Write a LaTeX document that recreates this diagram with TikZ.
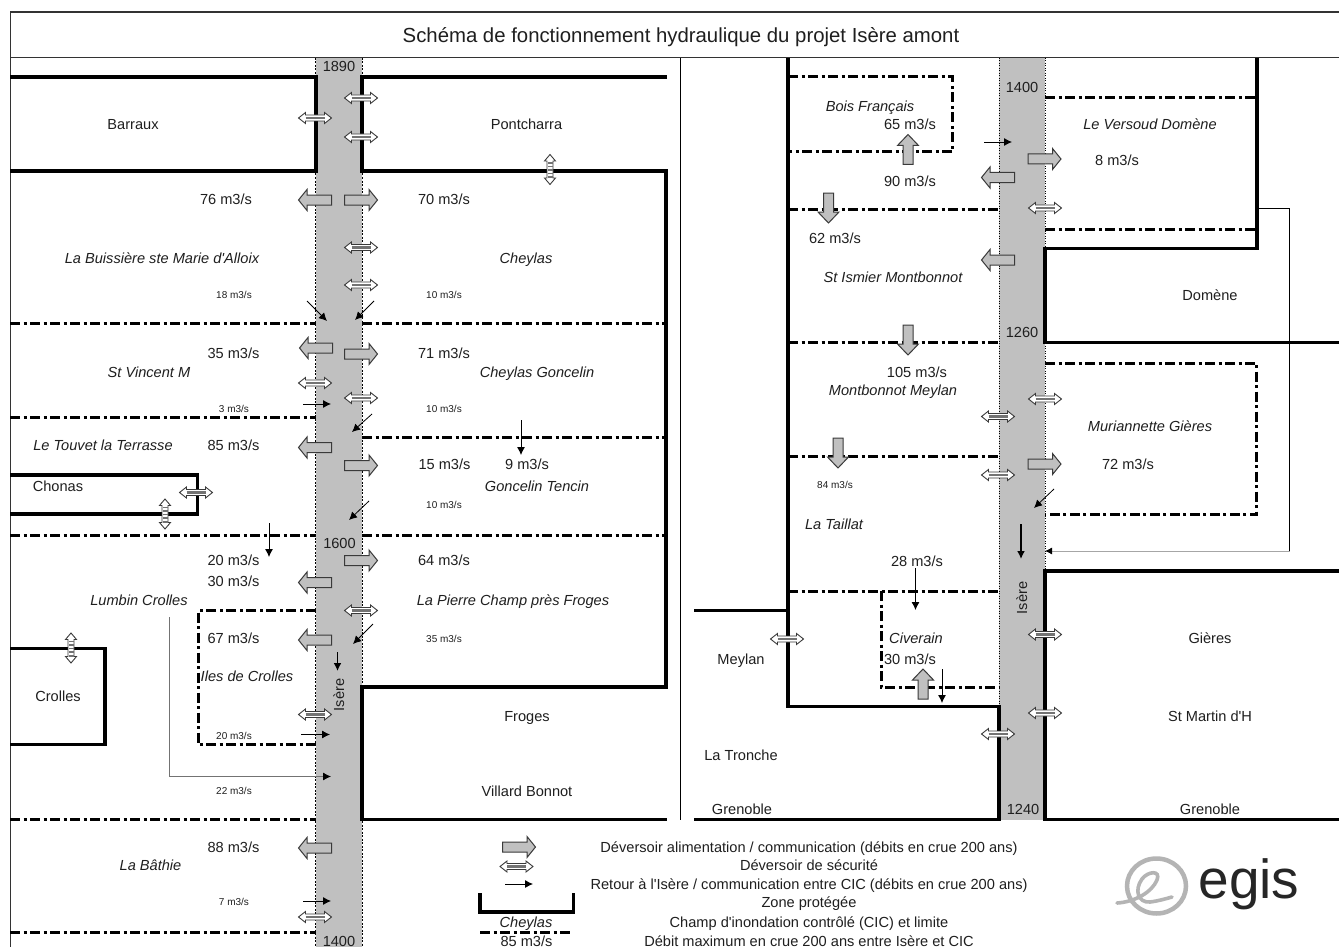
\documentclass[tikz,border=0pt]{standalone}
\usepackage{fontspec}
\setmainfont{Liberation Sans}
\usetikzlibrary{arrows.meta}
\definecolor{river}{HTML}{C0C0C0}
\definecolor{edge}{HTML}{3A3A3A}
\definecolor{logog}{HTML}{B4B4B4}
\newcounter{tn}
\tikzset{
  lab/.style={inner sep=0pt,text height=10.4pt,text depth=0pt,font=\fontsize{14.6}{15}\selectfont,text=black!88},
  ital/.style={lab,font=\fontsize{14.6}{15}\selectfont\itshape},
  tiny/.style={lab,text height=7.2pt,font=\fontsize{10}{11}\selectfont},
  wall/.style={line width=3.8pt,line join=miter,line cap=butt},
  cic/.style={line width=3pt,dash pattern=on 10pt off 3.5pt on 3pt off 3.5pt},
  frameline/.style={line width=1.2pt,draw=black!80},
  retour/.style={line width=0.8pt,-{Latex[length=8pt,width=8pt]}},
  riveredgea/.style={line width=1pt,dash pattern=on 2pt off 1.5pt},
  riveredgeb/.style={line width=0.9pt,dash pattern=on 1pt off 1.5pt},
  blockfill/.style={fill=river,draw=edge,line width=1pt},
  dblout/.style={fill=white,draw=edge,line width=0.9pt},
}
\newcommand{\TT}[4][lab]{\stepcounter{tn}\node[#1] (t\arabic{tn}) at (#2,#3) {#4};}
\newcommand{\BA}[3]{\begin{scope}[shift={(#1,#2)},rotate=#3]
  \draw[blockfill] (-16.5,-5) -- (8,-5) -- (8,-10.5) -- (16.5,0) -- (8,10.5) -- (8,5) -- (-16.5,5) -- cycle;
\end{scope}}
\newcommand{\BV}[3]{\begin{scope}[shift={(#1,#2)},rotate=#3]
  \draw[blockfill] (-15,-5) -- (4,-5) -- (4,-10.5) -- (15,0) -- (4,10.5) -- (4,5) -- (-15,5) -- cycle;
\end{scope}}
\newcommand{\DA}[3]{\begin{scope}[shift={(#1,#2)},rotate=#3]
  \draw[dblout] (-16.5,0) -- (-9.5,-5.5) -- (-9.5,-3) -- (9.5,-3) -- (9.5,-5.5) -- (16.5,0) -- (9.5,5.5) -- (9.5,3) -- (-9.5,3) -- (-9.5,5.5) -- cycle;
  \draw[river!60!black,line width=2.2pt] (-9.5,0) -- (9.5,0);
\end{scope}}
\newcommand{\DV}[2]{\begin{scope}[shift={(#1,#2)},rotate=90]
  \draw[dblout] (-15,0) -- (-8.5,-5.5) -- (-8.5,-3) -- (8.5,-3) -- (8.5,-5.5) -- (15,0) -- (8.5,5.5) -- (8.5,3) -- (-8.5,3) -- (-8.5,5.5) -- cycle;
  \draw[river!60!black,line width=5pt,dash pattern=on 1.6pt off 2pt] (-8.5,0) -- (8.5,0);
\end{scope}}
\newcommand{\AR}[5][]{\stepcounter{tn}\coordinate (a\arabic{tn}) at (#2,#3);\coordinate (b\arabic{tn}) at (#4,#5);\draw[retour,#1] (a\arabic{tn}) -- (b\arabic{tn});}
\begin{document}
\begin{tikzpicture}[x=1pt,y=-1pt]
\useasboundingbox (0,0) rectangle (1339,947);
\fill[white] (0,0) rectangle (1339,947);
% rivers
\fill[river] (316,58) rectangle (362,947);
\fill[river] (999,58) rectangle (1045,820);
\draw[riveredgea] (315.5,58) -- (315.5,947);
\draw[riveredgea] (362,58) -- (362,947);
\draw[riveredgeb] (999,58) -- (999,820);
\draw[riveredgeb] (1045,58) -- (1045,820);
% frame
\draw[frameline] (10.5,947) -- (10.5,12) -- (1339,12);
\draw[frameline] (10.5,57.5) -- (1339,57.5);
\draw[line width=1pt] (680.5,58) -- (680.5,820);
% controlled fields
\draw[cic] (10,323.5) -- (316,323.5);
\draw[cic] (362,323.5) -- (667,323.5);
\draw[cic] (10,417.5) -- (316,417.5);
\draw[cic] (362,437) -- (667,437);
\draw[cic] (10,535) -- (316,535);
\draw[cic] (362,535) -- (667,535);
\draw[cic] (316,610.5) -- (198,610.5) -- (198,744.5) -- (316,744.5);
\draw[cic] (10,819.5) -- (316,819.5);
\draw[cic] (10,932.5) -- (316,932.5);
\draw[cic] (788,77) -- (952.5,77) -- (952.5,152) -- (788,152);
\draw[cic] (788,209) -- (999,209);
\draw[cic] (788,342.5) -- (999,342.5);
\draw[cic] (788,456) -- (999,456);
\draw[cic] (788,591) -- (999,591);
\draw[cic] (881,591) -- (881,687) -- (999,687);
\draw[cic] (1045,97.5) -- (1257,97.5);
\draw[cic] (1045,229.5) -- (1257,229.5);
\draw[cic] (1045,363) -- (1256.5,363) -- (1256.5,514.5) -- (1045,514.5);
% protected zones
\draw[wall] (10,77) -- (316,77) -- (316,171) -- (10,171);
\draw[wall] (667,77) -- (362,77) -- (362,171) -- (666,171) -- (666,687) -- (362,687) -- (362,819.5) -- (667,819.5);
\draw[wall] (10,475) -- (197.5,475) -- (197.5,514) -- (10,514);
\draw[wall] (10,648.5) -- (105,648.5) -- (105,744.5) -- (10,744.5);
\draw[wall] (788,58) -- (788,706.5) -- (999,706.5) -- (999,819.5) -- (694,819.5);
\draw[wall] (694,610.5) -- (788,610.5);
\draw[wall] (1257,58) -- (1257,248.5) -- (1045,248.5) -- (1045,342.5) -- (1339,342.5);
\draw[wall] (1339,571) -- (1045,571) -- (1045,819.5) -- (1339,819.5);
% long return lines
\coordinate (rA) at (1258,208); \coordinate (rB) at (1289.5,208); \coordinate (rC) at (1289.5,551); \coordinate (rD) at (1045,551);
\draw[line width=0.7pt] (rA) -- (rB) -- (rC);
\draw[black!35,line width=0.8pt,-{Latex[length=7pt,width=7pt,black]}] (rC) -- (rD);
\coordinate (rE) at (169,617); \coordinate (rF) at (169,776.5); \coordinate (rG) at (331,776.5);
\draw[black!55,line width=0.8pt,-{Latex[length=8pt,width=8pt,black]}] (rE) -- (rF) -- (rG);
% return arrows
\AR{307}{301}{327}{321} \AR{374}{301}{355}{320} \AR{303}{404}{331}{404}
\AR{372}{414}{352}{432} \AR{369}{501}{349}{520} \AR{269}{523}{269}{557}
\AR{521}{420}{521}{455} \AR{373}{624}{353}{644} \AR{301}{734.5}{330}{734.5}
\AR{303}{901}{331}{901} \AR{505}{884}{533}{884} \AR{984}{142}{1012}{142}
\AR{1054}{489}{1034}{508} \AR{915.5}{568}{915.5}{610} \AR{942}{669}{942}{703}
\AR[line width=1.6pt]{337.5}{652}{337.5}{671} \AR[line width=1.6pt]{1021}{524}{1021}{559}
% block arrows
\BA{361}{200}{0} \BA{315}{200}{180} \BA{316}{348}{180} \BA{361}{354}{0}
\BA{315}{447.5}{180} \BA{361}{465.5}{0} \BA{361}{560.5}{0} \BA{315}{582.5}{180}
\BA{315}{640}{180} \BA{315}{848}{180} \BA{519}{847}{0}
\BV{908}{149.5}{90} \BA{998}{177.5}{180} \BA{1044.5}{159}{0} \BV{828.5}{208}{-90}
\BA{998}{260}{180} \BV{908}{340}{-90} \BV{838}{453}{-90} \BA{1044.5}{464}{0} \BV{923}{684}{90}
% safety spillways
\DA{361}{98}{0} \DA{315}{118}{0} \DA{361}{137}{0} \DA{361}{247.5}{0} \DA{361}{285}{0}
\DA{315}{383}{0} \DA{361}{398}{0} \DA{361}{610.5}{0} \DA{196}{492.5}{0}
\DA{315}{714.5}{0} \DA{315}{917}{0} \DA{516.5}{866.5}{0}
\DA{1045}{208}{0} \DA{998}{416.5}{0} \DA{1045}{399}{0} \DA{998}{475}{0}
\DA{787}{639}{0} \DA{1045}{634.5}{0} \DA{1045}{713}{0} \DA{998}{734}{0}
\DV{165}{514} \DV{71}{648} \DV{550}{169.5}
% title
\TT[lab,text height=14.4pt,font=\fontsize{20.35}{22}\selectfont]{681}{35}{Schéma de fonctionnement hydraulique du projet Isère amont}
% left panel
\TT{339}{66}{1890} \TT{339.5}{543}{1600} \TT{339}{941}{1400}
\TT{133}{124}{Barraux} \TT{526.5}{124}{Pontcharra}
\TT{226}{199}{76 m3/s} \TT{444}{199}{70 m3/s}
\TT[ital]{162}{258}{La Buissière ste Marie d\textquotesingle Alloix} \TT[ital]{526}{258}{Cheylas}
\TT[tiny]{234}{295}{18 m3/s} \TT[tiny]{444}{295}{10 m3/s}
\TT{233.5}{353}{35 m3/s} \TT{444}{353}{71 m3/s}
\TT[ital]{149}{372}{St Vincent M} \TT[ital]{537}{372}{Cheylas Goncelin}
\TT[tiny]{234}{409}{3 m3/s} \TT[tiny]{444}{409}{10 m3/s}
\TT[ital]{103}{445}{Le Touvet la Terrasse} \TT{233.5}{445}{85 m3/s}
\TT{444.5}{464}{15 m3/s} \TT{527}{464}{9 m3/s}
\TT[ital]{537}{486}{Goncelin Tencin} \TT{58}{486}{Chonas} \TT[tiny]{444}{505}{10 m3/s}
\TT{233.5}{560}{20 m3/s} \TT{444}{560}{64 m3/s} \TT{233.5}{581}{30 m3/s}
\TT[ital]{139}{600}{Lumbin Crolles} \TT[ital]{513}{600}{La Pierre Champ près Froges}
\TT{233.5}{638}{67 m3/s} \TT[tiny]{444}{639}{35 m3/s}
\TT{58}{696}{Crolles} \TT[ital]{247}{676}{Iles de Crolles}
\TT[lab,rotate=90]{339}{695}{Isère}
\TT[tiny]{234}{736}{20 m3/s} \TT{527}{716}{Froges}
\TT[tiny]{234}{791}{22 m3/s} \TT{527}{791}{Villard Bonnot}
\TT{233.5}{847}{88 m3/s} \TT[ital]{150.5}{865}{La Bâthie} \TT[tiny]{234}{902}{7 m3/s}
% right panel
\TT{1022}{87}{1400} \TT{1022}{332}{1260} \TT{1023}{809}{1240}
\TT[ital]{870}{106}{Bois Français} \TT{910}{124}{65 m3/s} \TT[ital]{1150}{124}{Le Versoud Domène}
\TT{1117}{160}{8 m3/s} \TT{910}{181}{90 m3/s} \TT{835}{238}{62 m3/s}
\TT[ital]{893}{277}{St Ismier Montbonnot} \TT{1210}{295}{Domène}
\TT{917}{372}{105 m3/s} \TT[ital]{893}{390}{Montbonnot Meylan}
\TT[ital]{1150}{426}{Muriannette Gières} \TT{1128}{464}{72 m3/s}
\TT[tiny]{835}{485}{84 m3/s} \TT[ital]{834}{524}{La Taillat}
\TT{917}{561}{28 m3/s} \TT[lab,rotate=90]{1022}{598}{Isère}
\TT[ital]{916}{638}{Civerain} \TT{1210}{638}{Gières} \TT{741}{659}{Meylan}
\TT{910}{659}{30 m3/s} \TT{1210}{716}{St Martin d\textquotesingle H} \TT{741}{755}{La Tronche}
\TT{742}{809}{Grenoble} \TT{1210}{809}{Grenoble}
% legend
\draw[wall] (480,893) -- (480,912) -- (573.5,912) -- (573.5,893);
\draw[cic] (480,932) -- (573,932);
\TT{809}{847}{Déversoir alimentation / communication (débits en crue 200 ans)}
\TT{809}{865}{Déversoir de sécurité}
\TT{809}{884}{Retour à l\textquotesingle Isère / communication entre CIC (débits en crue 200 ans)}
\TT{809}{902}{Zone protégée}
\TT{809}{922}{Champ d\textquotesingle inondation contrôlé (CIC) et limite}
\TT{809}{941}{Débit maximum en crue 200 ans entre Isère et CIC}
\TT[ital]{526}{922}{Cheylas} \TT{526.5}{941}{85 m3/s}
% logo
\draw[logog,line width=4.5pt] (1156.5,886) ellipse [x radius=29.5,y radius=27.5];
\draw[logog,line width=3.6pt,line cap=round] (1117,903) .. controls (1135,902) and (1152,892) .. (1157,880) .. controls (1161,870) and (1148,871) .. (1142,879) .. controls (1134,890) and (1138,903) .. (1150,902) .. controls (1158,901) and (1165,899) .. (1172,897);
\stepcounter{tn}\node[inner sep=0pt,anchor=base,font=\fontsize{55}{55}\selectfont,text=black!85] (logotext) at (1249,898) {egis};
\end{tikzpicture}
\end{document}
